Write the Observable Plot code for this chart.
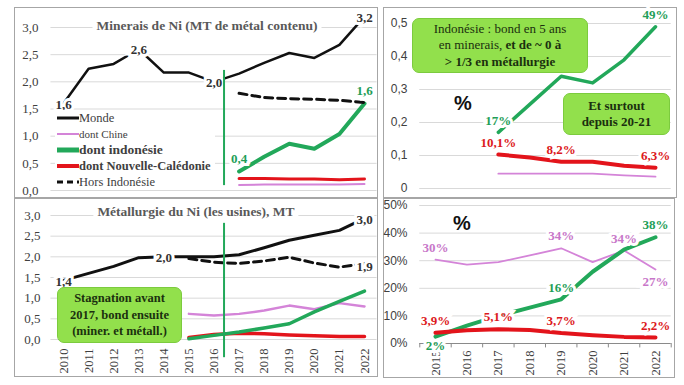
<!DOCTYPE html>
<html><head><meta charset="utf-8">
<script src="https://cdn.jsdelivr.net/npm/d3@7"></script>
<script src="https://cdn.jsdelivr.net/npm/@observablehq/plot@0.6"></script>
<style>
body{margin:0;background:#fff;}
#root{position:relative;width:684px;height:385px;overflow:hidden;background:#fff;font-family:"Liberation Serif","Times New Roman","DejaVu Serif",serif;}
.panel{position:absolute;outline:1px solid #a6a6a6;outline-offset:-1px;}
.panel svg{position:absolute;left:0;top:0;overflow:visible;}
.title{position:absolute;transform:translateX(-50%);background:#fff;padding:0 4px;font-family:"Liberation Serif","Times New Roman","DejaVu Serif",serif;font-weight:bold;font-size:13.5px;color:#595959;line-height:16px;white-space:nowrap;}
.box{position:absolute;box-sizing:border-box;background:#92e04c;border:1px solid #7ccb3e;border-radius:7px;color:#1b300f;font-family:"Liberation Serif","Times New Roman","DejaVu Serif",serif;font-size:13px;line-height:16.5px;text-align:center;display:flex;flex-direction:column;justify-content:center;white-space:nowrap;}
.pct{position:absolute;transform:translate(-50%,-50%);font-family:"Liberation Sans",Arial,sans-serif;font-weight:bold;font-size:20px;color:#111;}
#legend{position:absolute;left:55px;top:110px;width:160px;background:#fff;}
#legend .row{height:16px;display:flex;align-items:center;color:#404040;white-space:nowrap;font-family:"Liberation Serif","Times New Roman","DejaVu Serif",serif;}
#legend svg{width:24px;height:16px;flex:none;}
</style>
</head><body>
<div id="root">
  <div class="panel" id="tl" style="left:14px;top:7px;width:364px;height:191px"></div>
  <div class="panel" id="bl" style="left:14px;top:198px;width:364px;height:179px"></div>
  <div class="panel" id="tr" style="left:383px;top:7px;width:294px;height:191px"></div>
  <div class="panel" id="br" style="left:383px;top:198px;width:292px;height:180px"></div>
  <div class="title" style="left:207px;top:18px">Minerais de Ni (MT de métal contenu)</div>
  <div class="title" style="left:196px;top:204px">Métallurgie du Ni (les usines), MT</div>
  <div id="legend"></div>
  <div class="box" style="left:412px;top:18px;width:176px;height:55px">
    <div>Indonésie : bond en 5 ans</div>
    <div>en minerais, <b>et de ~ 0 à</b></div>
    <div><b>&gt; 1/3 en métallurgie</b></div>
  </div>
  <div class="box" style="left:563px;top:93px;width:107px;height:42px;font-weight:bold">
    <div>Et surtout</div><div>depuis 20-21</div>
  </div>
  <div class="box" style="left:57px;top:287px;width:125px;height:56px;font-weight:bold;font-size:12.5px">
    <div>Stagnation avant</div><div>2017, bond ensuite</div><div>(miner. et métall.)</div>
  </div>
  <div class="pct" style="left:463px;top:103px">%</div>
  <div class="pct" style="left:462px;top:223px">%</div>
</div>
<script>
// ---------- data ----------
const years = [2010,2011,2012,2013,2014,2015,2016,2017,2018,2019,2020,2021,2022];
const years15 = [2015,2016,2017,2018,2019,2020,2021,2022];
const years17 = [2017,2018,2019,2020,2021,2022];
const splitYear = [2016.4];

// Minerais (MT)
const tlMonde = [1.6,2.24,2.33,2.6,2.17,2.17,2.0,2.15,2.35,2.53,2.44,2.68,3.2];
const tlHorsIndo = [1.79,1.71,1.69,1.68,1.66,1.62];
const tlIndo = [0.35,0.62,0.86,0.77,1.04,1.6];
const tlNC = [0.22,0.22,0.21,0.21,0.2,0.21];
const tlChine = [0.1,0.11,0.11,0.11,0.11,0.12];
const tlTicks = [0,0.5,1,1.5,2,2.5,3];
const tlMondeLabels = [[2010,"1,6"],[2013,"2,6"],[2016,"2,0"],[2022,"3,2"]];
const tlIndoLabels = [[2017,"0,4"],[2022,"1,6"]];

// Métallurgie (MT)
const blMonde = [1.43,1.6,1.77,1.98,2.0,2.0,2.0,2.05,2.22,2.4,2.52,2.64,2.93];
const blHorsIndo = [1.96,1.87,1.84,1.9,1.99,1.85,1.75,1.84];
const blChine = [0.62,0.58,0.62,0.7,0.82,0.73,0.88,0.8];
const blIndo = [0.02,0.1,0.18,0.28,0.38,0.67,0.92,1.17];
const blNC = [0.05,0.12,0.15,0.14,0.11,0.09,0.07,0.07];
const blTicks = [0,0.5,1,1.5,2,2.5,3];
const blMondeLabels = [[2010,"1,4"],[2014,"2,0"],[2022,"3,0"]];
const blHorsLabels = [[2022,"1,9"]];

// Parts minerais (fraction)
const trIndo = [0.17,0.255,0.34,0.32,0.39,0.49];
const trNC = [0.103,0.094,0.081,0.081,0.069,0.063];
const trChine = [0.045,0.045,0.045,0.045,0.04,0.036];
const trTicks = [0,0.1,0.2,0.3,0.4,0.5];
const trIndoLabels = [[2017,"17%"],[2022,"49%"]];
const trNCLabels = [[2017,"10,1%"],[2019,"8,2%"],[2022,"6,3%"]];

// Parts métallurgie (%)
const brChine = [30.4,28.6,29.5,31.9,34.5,29.5,33.7,26.8];
const brIndo = [2.5,6.5,10,13,16,26,34,38.5];
const brNC = [3.9,4.8,5.2,4.9,3.8,3.0,2.4,2.2];
const brTicks = [0,10,20,30,40,50];
const brChineLabelsAbove = [[2015,"30%"],[2019,"34%"],[2021,"34%"]];
const brChineLabelsBelow = [[2022,"27%"]];
const brIndoLabelsAbove = [[2019,"16%"],[2022,"38%"]];
const brIndoLabelsBelow = [[2015,"2%"]];
const brNCLabels = [[2015,"3,9%"],[2017,"5,1%"],[2019,"3,7%"],[2022,"2,2%"]];

const legendNames = ["Monde","dont Chine","dont indonésie","dont Nouvelle-Calédonie","Hors Indonésie"];

// ---------- styles ----------
const BLACK="#111", GREEN="#22a85a", RED="#e3141b", PINK="#d484d8", GRID="#d9d9d9";
const GREEN_T="#1f9e58", RED_T="#dc1820", PINK_T="#c877c9", DARK_T="#333";
const serif = "'Liberation Serif','Times New Roman','DejaVu Serif',serif";
const sans = "'Liberation Sans',Arial,sans-serif";

const rows = (xs, ys) => xs.map((x,i)=>({x, y: ys[i]}));
const lab = (labels, xs, ys) => labels.map(([x,t])=>({x, y: ys[xs.indexOf(x)], t}));
const c1 = d => d.toFixed(1).replace(".", ",");
const gen = d => d === 0 ? "0" : String(d).replace(".", ",");
const bounds = xs => xs.map(x=>x-0.5).concat([xs[xs.length-1]+0.5]);

function txt(data, fill, opts={}) {
  return Plot.text(data, {x:"x", y:"y", text:"t", fill, stroke:"white", strokeWidth:6, strokeLinejoin:"miter",
    fontFamily: serif, fontWeight:"bold", fontSize:13, ...opts});
}
const baseStyle = {fontFamily: serif, fontSize:"13px", background:"transparent", overflow:"visible"};

// ---------- top-left ----------
const tl = Plot.plot({
  width:364, height:191, marginLeft:27, marginTop:0, marginRight:0, marginBottom:0,
  style: baseStyle,
  x:{domain:[2010,2022], range:[49,350], axis:null},
  y:{domain:[0,3], range:[183,20]},
  marks:[
    Plot.ruleY(tlTicks, {x1:years[0]-0.5, x2:years[years.length-1]+0.5, stroke:GRID}),
    Plot.axisY(tlTicks, {anchor:"left", tickSize:0, tickPadding:3, tickFormat:c1, fontSize:13, fontFamily:serif, color:"#404040", label:null}),
    Plot.line(rows(years17, tlChine), {x:"x", y:"y", stroke:PINK, strokeWidth:2}),
    Plot.line(rows(years17, tlNC), {x:"x", y:"y", stroke:RED, strokeWidth:3}),
    Plot.line(rows(years17, tlIndo), {x:"x", y:"y", stroke:GREEN, strokeWidth:4}),
    Plot.line(rows(years17, tlHorsIndo), {x:"x", y:"y", stroke:BLACK, strokeWidth:3, strokeDasharray:"8,5"}),
    Plot.line(rows(years, tlMonde), {x:"x", y:"y", stroke:BLACK, strokeWidth:2.5}),
    txt(lab(tlMondeLabels, years, tlMonde), DARK_T, {dy:1}),
    txt(lab(tlIndoLabels, years17, tlIndo), GREEN_T, {dy:-13}),
    Plot.ruleX(splitYear, {y1:0.09, y2:2.21, stroke:GREEN, strokeWidth:2})
  ]
});
document.getElementById("tl").append(tl);

// ---------- bottom-left ----------
const bl = Plot.plot({
  width:364, height:179, marginLeft:29, marginTop:0, marginRight:0, marginBottom:38,
  style: baseStyle,
  x:{domain:[2010,2022], range:[49,350]},
  y:{domain:[0,3], range:[141,17]},
  marks:[
    Plot.ruleY(blTicks, {x1:years[0]-0.5, x2:years[years.length-1]+0.5, stroke:GRID}),
    Plot.axisY(blTicks, {anchor:"left", tickSize:0, tickPadding:3, tickFormat:c1, fontSize:13, fontFamily:serif, color:"#404040", label:null}),
    Plot.axisX(years, {anchor:"bottom", tickRotate:-90, tickSize:0, tickPadding:9, tickFormat:"d", fontSize:12.5, fontFamily:serif, color:"#404040", textAnchor:"end", lineAnchor:"middle", label:null}),
    Plot.line(rows(years15, blChine), {x:"x", y:"y", stroke:PINK, strokeWidth:2.5}),
    Plot.line(rows(years15, blNC), {x:"x", y:"y", stroke:RED, strokeWidth:3.5}),
    Plot.line(rows(years15, blIndo), {x:"x", y:"y", stroke:GREEN, strokeWidth:3.5}),
    Plot.line(rows(years15, blHorsIndo), {x:"x", y:"y", stroke:BLACK, strokeWidth:3, strokeDasharray:"8,5"}),
    Plot.line(rows(years, blMonde), {x:"x", y:"y", stroke:BLACK, strokeWidth:3}),
    txt(lab(blMondeLabels, years, blMonde), DARK_T, {dy:1}),
    txt(lab(blHorsLabels, years15, blHorsIndo), DARK_T, {dy:3}),
    Plot.ruleX(splitYear, {y1:-0.44, y2:2.81, stroke:GREEN, strokeWidth:2})
  ]
});
document.getElementById("bl").append(bl);

// ---------- top-right ----------
const tr = Plot.plot({
  width:294, height:191, marginLeft:27, marginTop:0, marginRight:0, marginBottom:0,
  style: {...baseStyle, fontFamily:sans},
  x:{domain:[2015,2022], range:[52,272], axis:null},
  y:{domain:[0,0.5], range:[181,16]},
  marks:[
    Plot.ruleY(trTicks, {x1:years15[0]-0.5, x2:years15[years15.length-1]+0.5, stroke:GRID}),
    Plot.axisY(trTicks, {anchor:"left", tickSize:0, tickPadding:3, tickFormat:gen, fontSize:12, fontFamily:sans, color:"#404040", label:null}),
    Plot.line(rows(years17, trChine), {x:"x", y:"y", stroke:PINK, strokeWidth:1.8}),
    Plot.line(rows(years17, trNC), {x:"x", y:"y", stroke:RED, strokeWidth:4}),
    Plot.line(rows(years17, trIndo), {x:"x", y:"y", stroke:GREEN, strokeWidth:3.5}),
    txt(lab(trIndoLabels, years17, trIndo), GREEN_T, {dy:-12}),
    txt(lab(trNCLabels, years17, trNC), RED_T, {dy:-12})
  ]
});
document.getElementById("tr").append(tr);

// ---------- bottom-right ----------
const br = Plot.plot({
  width:292, height:180, marginLeft:27, marginTop:0, marginRight:0, marginBottom:35,
  style: {...baseStyle, fontFamily:sans},
  x:{domain:[2015,2022], range:[52,272]},
  y:{domain:[0,50], range:[145,7]},
  marks:[
    Plot.ruleY(brTicks.filter(d=>d>0), {x1:years15[0]-0.5, x2:years15[years15.length-1]+0.5, stroke:GRID}),
    Plot.axisY(brTicks, {anchor:"left", tickSize:0, tickPadding:3, tickFormat:d=>d+"%", fontSize:12, fontFamily:sans, color:"#404040", label:null}),
    Plot.axisX(years15, {anchor:"bottom", tickRotate:-90, tickSize:0, tickPadding:7, tickFormat:"d", fontSize:12.5, fontFamily:serif, color:"#404040", textAnchor:"end", lineAnchor:"middle", label:null}),
    Plot.ruleY([0], {x1:years15[0]-0.5, x2:years15[years15.length-1]+0.5, stroke:"#8a8a8a"}),
    Plot.ruleX(bounds(years15), {y1:0, y2:-1.6, stroke:"#8a8a8a"}),
    Plot.line(rows(years15, brChine), {x:"x", y:"y", stroke:PINK, strokeWidth:1.8}),
    Plot.line(rows(years15, brIndo), {x:"x", y:"y", stroke:GREEN, strokeWidth:4}),
    Plot.line(rows(years15, brNC), {x:"x", y:"y", stroke:RED, strokeWidth:4}),
    txt(lab(brChineLabelsAbove, years15, brChine), PINK_T, {dy:-12}),
    txt(lab(brChineLabelsBelow, years15, brChine), PINK_T, {dy:12}),
    txt(lab(brIndoLabelsAbove, years15, brIndo), GREEN_T, {dy:-12}),
    txt(lab(brIndoLabelsBelow, years15, brIndo), GREEN_T, {dy:9}),
    txt(lab(brNCLabels, years15, brNC), RED_T, {dy:-12})
  ]
});
document.getElementById("br").append(br);

// ---------- legend ----------
const legendStyles = [
  {stroke:BLACK, w:3, dash:null, font:"12.5px", weight:"normal"},
  {stroke:PINK, w:2, dash:null, font:"11px", weight:"normal"},
  {stroke:GREEN, w:5, dash:null, font:"13.5px", weight:"bold"},
  {stroke:RED, w:4, dash:null, font:"12.5px", weight:"bold"},
  {stroke:BLACK, w:3, dash:"6,4", font:"12.5px", weight:"normal"}
];
const leg = document.getElementById("legend");
legendNames.forEach((name,i)=>{
  const s = legendStyles[i];
  const row = document.createElement("div");
  row.className = "row";
  row.innerHTML = `<svg viewBox="0 0 24 16"><line x1="2" x2="24" y1="8" y2="8" stroke="${s.stroke}" stroke-width="${s.w}" ${s.dash?`stroke-dasharray="${s.dash}"`:""}/></svg><span style="font-size:${s.font};font-weight:${s.weight}">${name}</span>`;
  leg.append(row);
});
</script>
</body></html>
